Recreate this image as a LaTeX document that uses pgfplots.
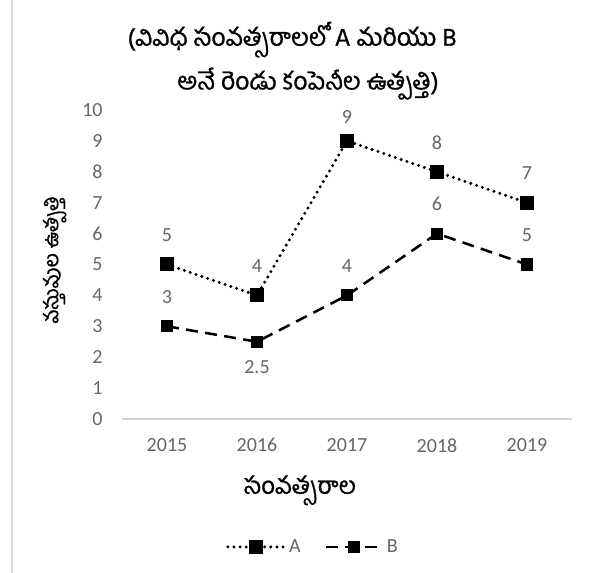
\documentclass[border=0pt]{standalone}
\usepackage{pgfplots}
\pgfplotsset{compat=1.18}
\usepackage{pgfplotstable}
\usepackage{fontspec}
\setmainfont{Carlito}
\newfontfamily\te[Script=Telugu,FakeBold=0.8]{Hind Guntur}
\pgfplotstableread{
x y off
0 5 22
1 4 22
2 9 18
3 8 22
4 7 22
}\dataA
\pgfplotstableread{
x y off
0 3 22
1 2.5 -19
2 4 22
3 6 22
4 5 22
}\dataB
\begin{document}
\begin{tikzpicture}
\path[use as bounding box] (0,0) rectangle (447pt,429.75pt);
\draw[gray!30, line width=1pt] (9pt,0pt) -- (9pt,429.75pt);
\begin{axis}[
  at={(91.5pt,115.5pt)}, anchor=south west,
  scale only axis, width=337.5pt, height=231.75pt,
  xmin=-0.5, xmax=4.5, ymin=0, ymax=10,
  xtick={0,1,2,3,4}, xticklabels={2015,2016,2017,2018,2019},
  ytick={0,1,...,10},
  axis y line=none,
  axis x line*=bottom,
  x axis line style={gray!35, line width=0.8pt, -},
  major tick length=0pt,
  clip=false,
  /pgf/number format/assume math mode=true,
  tick label style={font=\fontsize{15}{17}\selectfont, text=gray!80!black},
  xticklabel style={yshift=-11pt},
  nodes near coords,
  visualization depends on={\thisrow{off} \as \off},
  every node near coord/.append style={anchor=center, yshift=\off pt, font=\fontsize{15}{17}\selectfont, text=gray!80!black},
  legend style={at={(0.425,-0.414)}, anchor=center, draw=none, legend columns=2,
    font=\fontsize{15}{17}\selectfont, text=gray!80!black,
    /tikz/every even column/.append style={column sep=16pt}},
  legend image code/.code={
    \draw[#1, mark repeat=2, mark phase=2] plot coordinates {(0cm,0cm) (0.75cm,0cm) (1.5cm,0cm)};
  },
]
\addplot[black, line width=2.5pt, line cap=round, dash pattern=on 0pt off 4.6pt, mark=square*, mark size=4pt, mark options={solid}]
  table[x=x, y=y] {\dataA};
\addlegendentry{A}
\addplot[black, line width=1.9pt, dash pattern=on 9pt off 5.5pt, mark=square*, mark size=3.6pt, mark options={solid}]
  table[x=x, y=y] {\dataB};
\addlegendentry{B}
\end{axis}
\begin{axis}[
  at={(91.5pt,115.5pt)}, anchor=south west,
  scale only axis, width=337.5pt, height=231.75pt,
  xmin=-0.5, xmax=4.5, ymin=0, ymax=10,
  ytick={0,1,...,10}, xtick=\empty,
  axis x line=none, axis y line*=left,
  y axis line style={draw=none},
  major tick length=0pt,
  /pgf/number format/assume math mode=true,
  tick label style={font=\fontsize{15}{17}\selectfont, text=gray!80!black},
  yticklabel style={xshift=-11pt},
]
\addplot[draw=none] coordinates {(0,0)};
\end{axis}
\node[font=\te\fontsize{18.5}{20}\selectfont] at (219pt,400pt) {(వివిధ సంవత్సరాలలో A మరియు B};
\node[font=\te\fontsize{18.5}{20}\selectfont] at (231pt,367pt) {అనే రెండు కంపెనీల ఉత్పత్తి)};
\node[font=\te\fontsize{15}{17}\selectfont, rotate=90] at (41pt,235pt) {వస్తువుల ఉత్పత్తి};
\node[font=\te\fontsize{18}{20}\selectfont] at (225pt,62pt) {సంవత్సరాల};
\end{tikzpicture}
\end{document}
